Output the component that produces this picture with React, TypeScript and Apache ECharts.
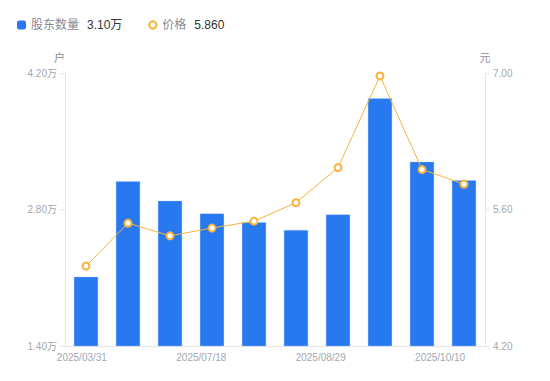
import { useEffect, useRef } from "react";
import * as echarts from "echarts";

const dates = [
  "2025/03/31", "2025/06/30", "2025/07/10", "2025/07/18", "2025/07/31",
  "2025/08/20", "2025/08/29", "2025/09/10", "2025/09/30", "2025/10/10",
];
// 股东数量（万户）
const holders = [2.11, 3.09, 2.89, 2.76, 2.67, 2.59, 2.75, 3.94, 3.29, 3.10];
// 价格（元）
const prices = [5.02, 5.46, 5.33, 5.41, 5.48, 5.67, 6.03, 6.97, 6.01, 5.86];

const leftAxis = { min: 1.4, max: 4.2, interval: 1.4 };
const rightAxis = { min: 4.2, max: 7.0, interval: 1.4 };

const FONT = "'Liberation Sans', 'Noto Sans CJK SC', sans-serif";
const BAR = "#2878f0";
const LINE = "#f8b33c";
const AXIS_LINE = "#e3e5ea";
const LABEL = "#a3a7b1";

export default function App() {
  const ref = useRef<HTMLDivElement>(null);
  useEffect(() => {
    if (!ref.current) return;
    const chart = echarts.init(ref.current, undefined, { renderer: "svg" });
    const lastH = holders[holders.length - 1];
    const lastP = prices[prices.length - 1];
    chart.setOption({
      animation: false,
      textStyle: { fontFamily: FONT },
      legend: {
        left: 17,
        top: 19,
        padding: 0,
        itemWidth: 9,
        itemHeight: 9,
        itemGap: 25,
        data: [
          { name: "股东数量", icon: "roundRect", itemStyle: { borderWidth: 0 } },
          { name: "价格" },
        ],
        formatter: (name: string) =>
          name === "股东数量"
            ? `{n|股东数量}{v|${lastH.toFixed(2)}万}`
            : `{n|价格}{v|${lastP.toFixed(3)}}`,
        textStyle: {
          fontFamily: FONT,
          rich: {
            n: { color: "#868a94", fontSize: 12, fontFamily: FONT },
            v: { color: "#333333", fontSize: 12, padding: [0, 0, 0, 8], fontFamily: FONT },
          },
        },
      },
      grid: [
        { left: 65, right: 65, top: 73, bottom: 35 },
        { left: 62, right: 90, top: 73, bottom: 35 },
      ],
      xAxis: [
        {
          type: "category",
          data: dates,
          gridIndex: 0,
          axisLine: { lineStyle: { color: AXIS_LINE } },
          axisTick: { show: false },
          axisLabel: { show: false },
        },
        {
          type: "category",
          data: dates,
          gridIndex: 1,
          axisLine: { show: false },
          axisTick: { show: false },
          axisLabel: { interval: 2, color: LABEL, fontSize: 10, margin: 6, fontFamily: FONT },
        },
      ],
      yAxis: [
        {
          type: "value",
          gridIndex: 0,
          position: "left",
          ...leftAxis,
          name: "户",
          nameGap: 10,
          nameTextStyle: { color: "#8b8f99", fontSize: 11, align: "right", fontFamily: FONT },
          axisLine: { show: true, lineStyle: { color: AXIS_LINE } },
          axisTick: { show: true, length: 4, lineStyle: { color: AXIS_LINE } },
          splitLine: { show: false },
          axisLabel: {
            color: LABEL,
            fontSize: 10,
            fontFamily: FONT,
            formatter: (v: number) => `${v.toFixed(2)}万`,
          },
        },
        {
          type: "value",
          gridIndex: 0,
          position: "right",
          ...rightAxis,
          name: "元",
          nameGap: 10,
          nameTextStyle: { color: "#8b8f99", fontSize: 11, fontFamily: FONT },
          axisLine: { show: true, lineStyle: { color: AXIS_LINE } },
          axisTick: { show: true, length: 4, lineStyle: { color: AXIS_LINE } },
          splitLine: { show: false },
          axisLabel: {
            color: LABEL,
            fontSize: 10,
            fontFamily: FONT,
            formatter: (v: number) => v.toFixed(2),
          },
        },
        { type: "value", gridIndex: 1, show: false },
      ],
      series: [
        {
          name: "股东数量",
          type: "bar",
          xAxisIndex: 0,
          yAxisIndex: 0,
          data: holders,
          barWidth: "58%",
          itemStyle: { color: BAR, borderColor: "rgba(160,195,250,0.8)", borderWidth: 0.5 },
        },
        {
          name: "价格",
          type: "line",
          xAxisIndex: 0,
          yAxisIndex: 1,
          data: prices,
          symbol: "circle",
          symbolSize: 7,
          lineStyle: { color: LINE, width: 1 },
          itemStyle: { color: "#ffffff", borderColor: LINE, borderWidth: 2 },
        },
      ],
    });
    return () => chart.dispose();
  }, []);
  return (
    <div
      ref={ref}
      style={{ position: "absolute", left: 0, top: 0, width: 550, height: 381 }}
    />
  );
}
